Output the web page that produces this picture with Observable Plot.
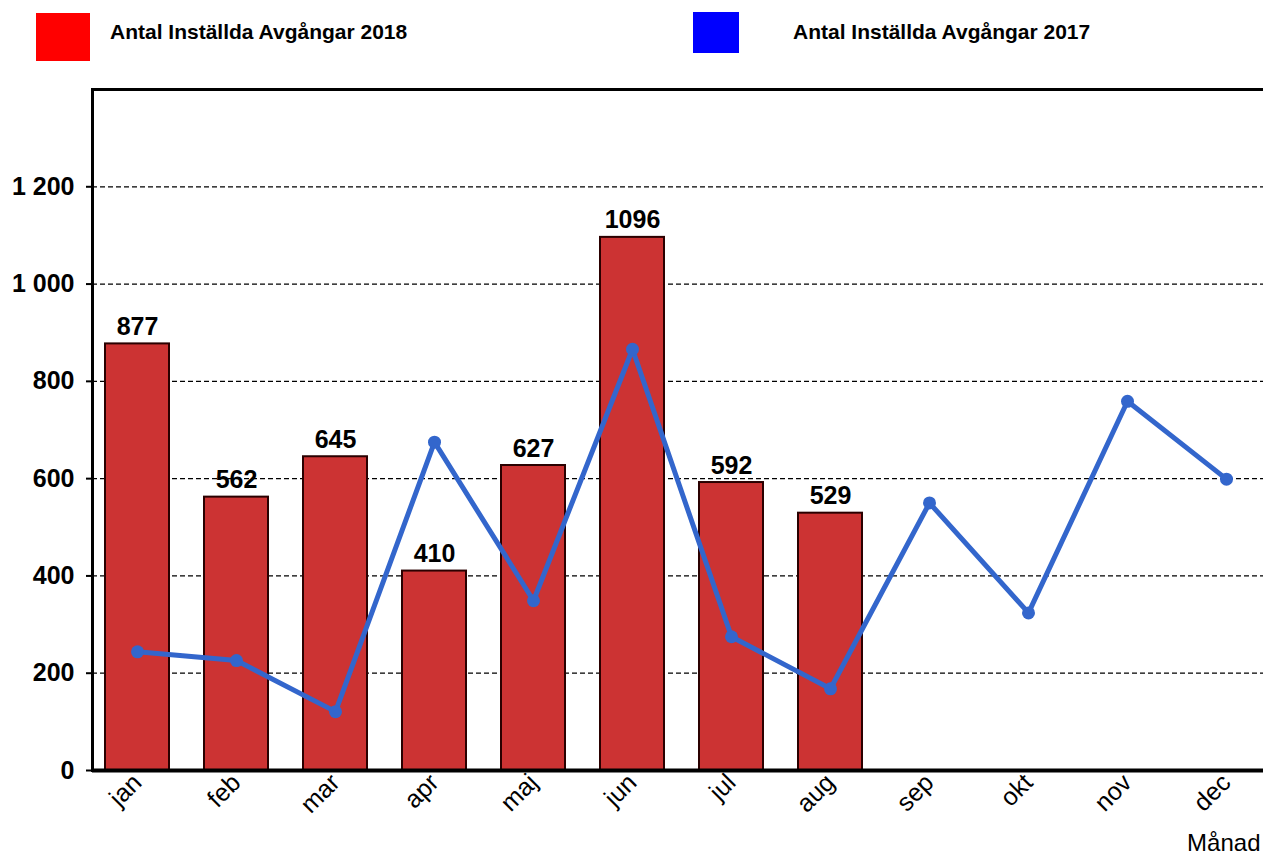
<!DOCTYPE html>
<html><head><meta charset="utf-8">
<script src="https://cdn.jsdelivr.net/npm/d3@7"></script>
<script src="https://cdn.jsdelivr.net/npm/@observablehq/plot@0.6"></script>
<style>
body{margin:0;background:#fff;font-family:"Liberation Sans",Arial,sans-serif;}
#legend{position:relative;width:1263px;height:80px;}
.sw{position:absolute;}
.lt{position:absolute;font-weight:bold;font-size:21px;color:#000;line-height:1;}
</style></head>
<body>
<div id="legend">
  <div class="sw" style="left:36px;top:13px;width:54px;height:48px;background:#ff0000"></div>
  <div class="lt" style="left:110px;top:21px;">Antal Inställda Avgångar 2018</div>
  <div class="sw" style="left:693px;top:12px;width:46px;height:41px;background:#0000ff"></div>
  <div class="lt" style="left:793px;top:21px;">Antal Inställda Avgångar 2017</div>
</div>
<div id="chart"></div>
<script>
const months = ["jan","feb","mar","apr","maj","jun","jul","aug","sep","okt","nov","dec"];
const values2018 = [877,562,645,410,627,1096,592,529];
const values2017 = [244,226,121,675,349,866,275,168,550,324,759,599];
const yTicks = [0,200,400,600,800,1000,1200];

const bars = values2018.map((v,i)=>({month:months[i], value:v}));
const line = values2017.map((v,i)=>({month:months[i], value:v}));
const fmt = d => d3.format(",")(d).replace(/,/g," ");

const chart = Plot.plot({
  width:1263, height:774,
  marginTop:9, marginBottom:84, marginLeft:92, marginRight:0,
  style:{fontFamily:"Liberation Sans, Arial, sans-serif", background:"#fff", overflow:"visible"},
  x:{domain:months, range:[92,1271], paddingInner:0.354, paddingOuter:0.131, label:null},
  y:{domain:[0,1400], label:null},
  marks:[
    Plot.gridY(yTicks.filter(d=>d>0), {stroke:"#000", strokeOpacity:1, strokeDasharray:"5,3", strokeWidth:1.3}),
    Plot.barY(bars, {x:"month", y:"value", fill:"#CC3333", stroke:"#2a0000", strokeWidth:2}),
    Plot.text(bars, {x:"month", y:"value", text:d=>String(d.value), lineAnchor:"bottom", dy:-9, fontSize:25, fontWeight:"bold", fill:"#000"}),
    Plot.line(line, {x:"month", y:"value", stroke:"#3366CC", strokeWidth:5}),
    Plot.dot(line, {x:"month", y:"value", fill:"#3366CC", r:6.5}),
    Plot.axisY({ticks:yTicks, tickFormat:fmt, tickSize:6, tickPadding:12, fontSize:25, fontWeight:"bold", stroke:"#000", strokeWidth:2, label:null}),
    Plot.axisX({tickRotate:-45, tickSize:0, tickPadding:8, fontSize:25, label:"Månad", labelAnchor:"right", labelArrow:"none", labelOffset:80}),
    Plot.frame({anchor:"left", stroke:"#000", strokeWidth:3}),
    Plot.frame({anchor:"top", stroke:"#000", strokeWidth:3}),
    Plot.ruleY([0], {stroke:"#000", strokeWidth:4})
  ]
});
chart.querySelectorAll("g[aria-label='x-axis label'] text").forEach(t=>t.setAttribute("font-size","24"));
document.getElementById("chart").appendChild(chart);
</script>
</body></html>
